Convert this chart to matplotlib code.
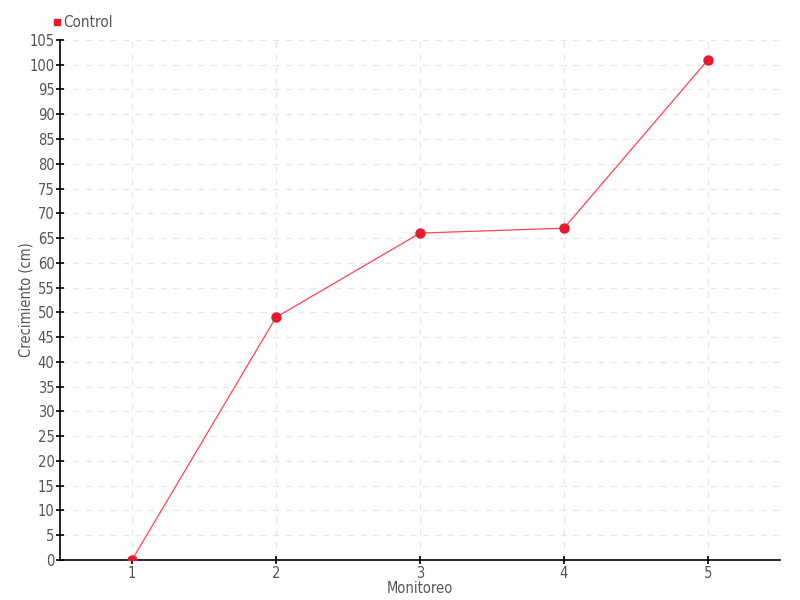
import matplotlib
matplotlib.use("Agg")
import matplotlib.pyplot as plt
from matplotlib.lines import Line2D

monitoreo = [1, 2, 3, 4, 5]
crecimiento = [0, 49, 66, 67, 101]
serie = "Control"

plt.rcParams['font.family'] = ['DejaVu Sans']
plt.rcParams['font.stretch'] = 'condensed'
gris = "#555555"

fig = plt.figure(figsize=(8, 6), dpi=100)
ax = fig.add_axes([0.075, 0.0667, 0.9, 0.8667])

ax.plot(monitoreo, crecimiento, color="#ff4455", lw=0.9, zorder=3)
ax.plot(monitoreo, crecimiento, 'o', color="#e8192c", ms=6.5, zorder=4)

ax.set_xlim(0.5, 5.5)
ax.set_ylim(0, 105)
ax.set_xticks(monitoreo)
ax.set_yticks(range(0, 106, 5))

ax.grid(True, color="#e6e6e6", ls=(0, (5, 5)), lw=0.9)
for s in ("top", "right"):
    ax.spines[s].set_visible(False)
for s in ("left", "bottom"):
    ax.spines[s].set_linewidth(1.2)
ax.tick_params(direction="inout", length=6, width=1.2, labelsize=10.5, labelcolor=gris, pad=1)

ax.set_xlabel("Monitoreo", fontsize=10.5, color=gris, labelpad=0)
ax.set_ylabel("Crecimiento (cm)", fontsize=10.5, color=gris, labelpad=-3)

h = Line2D([], [], marker='s', ls='none', color="#e8192c", ms=5)
fig.legend([h], [serie], loc="upper left", bbox_to_anchor=(0.052, 0.993), frameon=False,
           handletextpad=0.1, handlelength=0.6, fontsize=11, labelcolor=gris, borderpad=0.2)

fig.savefig("out.png")
